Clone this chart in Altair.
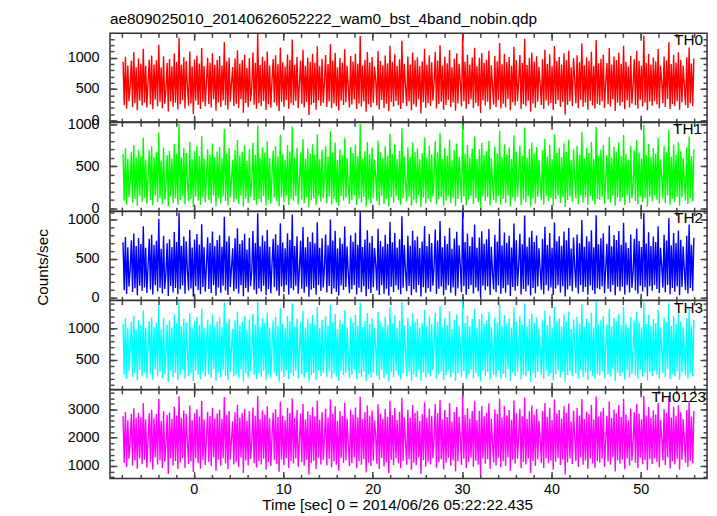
import altair as alt
import pandas as pd

FONT = "Liberation Sans"
TITLE = "ae809025010_20140626052222_wam0_bst_4band_nobin.qdp"
X_TITLE = "Time [sec] 0 = 2014/06/26 05:22:22.435"
Y_TITLE = "Counts/sec"
T_START = -7.92
T_BIN = 0.1333

th0 = [
    934, 241, 1012, 188, 876, 307, 563, 952, 215, 1087, 274, 845, 162, 990, 318, 901,
    236, 1143, 287, 871, 205, 612, 968, 254, 1035, 179, 889, 331, 957, 226, 1206, 298,
    842, 193, 1021, 266, 497, 913, 142, 978, 303, 864, 217, 1064, 281, 930, 174, 1318,
    259, 887, 322, 1005, 190, 944, 548, 233, 1096, 270, 857, 98, 972, 315, 1033, 247,
    905, 182, 1152, 294, 866, 226, 621, 999, 263, 918, 205, 1071, 339, 884, 156, 961,
    287, 1024, 212, 873, 318, 1247, 241, 940, 173, 1003, 296, 588, 851, 229, 986, 265,
    1119, 198, 908, 337, 962, 124, 1045, 279, 839, 211, 992, 304, 530, 1083, 250, 917,
    186, 1376, 272, 881, 224, 1015, 309, 946, 167, 1098, 258, 874, 202, 639, 979, 286,
    1037, 233, 895, 145, 1162, 297, 926, 219, 858, 326, 1049, 184, 967, 275, 1290, 240,
    883, 311, 1009, 196, 571, 951, 264, 1126, 207, 869, 292, 1002, 87, 935, 248, 1060,
    277, 918, 170, 1181, 320, 861, 235, 984, 283, 607, 1041, 213, 897, 302, 1215, 192,
    955, 268, 1078, 226, 846, 159, 993, 314, 917, 246, 1134, 289, 872, 521, 204, 1024,
    252, 939, 335, 1063, 183, 902, 271, 1345, 220, 876, 300, 968, 137, 1091, 257, 923,
    209, 1010, 282, 859, 645, 238, 1107, 176, 947, 325, 880, 199, 1032, 264, 912, 148,
    1189, 293, 933, 216, 1055, 310, 868, 243, 976, 182, 1267, 276, 901, 554, 228, 1018,
    301, 892, 164, 1082, 255, 959, 219, 1004, 337, 866, 110, 941, 288, 1141, 203, 887,
    274, 1036, 231, 925, 318, 598, 1093, 190, 955, 260, 1198, 297, 873, 171, 1015, 244,
    909, 328, 1120, 212, 848, 286, 982, 153, 1066, 270, 903, 613, 221, 1372, 305, 936,
    186, 1047, 262, 890, 335, 1003, 197, 1157, 280, 862, 227, 998, 118, 1074, 316, 920,
    238, 965, 299, 1109, 176, 877, 542, 251, 1027, 214, 944, 324, 1233, 193, 896, 267,
    1058, 208, 931, 340, 1011, 162, 870, 289, 1174, 236, 958, 306, 627, 1040, 181, 913,
    257, 1301, 225, 884, 312, 997, 140, 1083, 271, 939, 203, 1021, 296, 856, 579, 247,
    976, 183, 1127, 318, 904, 237, 1052, 278, 863, 167, 1185, 263, 948, 322, 1009, 212,
    891, 295, 1068, 92, 960, 249, 1113, 304, 847, 228, 992, 657, 274, 1036, 195, 925,
    327, 1226, 216, 878, 283, 1004, 171, 946, 310, 1095, 239, 867, 188, 1281, 267, 912,
    244, 983, 305, 1046, 198, 600, 915, 256, 1152, 223, 889, 336, 1017, 149, 963, 281,
    1077, 232, 904, 293, 1190, 176, 936, 319, 859, 207, 1028, 268, 563, 975, 241, 1110,
    186, 951, 330, 873, 222, 1353, 285, 917, 163, 1061, 299, 890, 234, 1002, 313, 938,
    257, 1136, 194, 869, 611, 276, 1019, 215, 954, 342, 1246, 183, 897, 262, 1045, 228,
    924, 307, 1084, 170, 961, 289, 876, 539, 243, 1007, 196, 1163, 273, 905, 231, 988,
]
th1 = [
    642, 87, 713, 41, 588, 132, 330, 671, 65, 754, 110, 601, 28, 697, 143, 625,
    79, 842, 121, 579, 53, 362, 690, 96, 738, 34, 612, 148, 666, 72, 905, 118,
    569, 47, 724, 102, 281, 633, 18, 685, 139, 591, 60, 767, 114, 648, 39, 1004,
    98, 607, 145, 716, 44, 659, 317, 83, 793, 107, 584, 12, 681, 136, 745, 91,
    622, 38, 861, 126, 588, 69, 374, 705, 101, 640, 55, 771, 150, 603, 25, 676,
    119, 729, 58, 596, 140, 948, 85, 656, 30, 718, 127, 340, 577, 74, 694, 106,
    812, 49, 627, 147, 672, 16, 748, 113, 563, 62, 701, 135, 298, 779, 94, 638,
    40, 987, 108, 601, 71, 727, 141, 660, 27, 795, 99, 594, 52, 388, 688, 123,
    742, 81, 615, 22, 869, 131, 645, 66, 578, 149, 753, 37, 676, 112, 975, 88,
    604, 142, 719, 45, 329, 664, 104, 826, 57, 589, 128, 711, 8, 652, 93, 763,
    115, 637, 33, 881, 146, 583, 77, 695, 120, 357, 741, 59, 614, 138, 918, 43,
    668, 109, 784, 68, 575, 24, 702, 144, 631, 90, 833, 125, 597, 270, 51, 730,
    97, 654, 150, 760, 36, 620, 116, 1008, 63, 593, 134, 679, 15, 790, 103, 641,
    56, 722, 122, 580, 392, 84, 806, 31, 663, 148, 599, 46, 737, 106, 628, 20,
    888, 129, 649, 67, 758, 143, 586, 92, 684, 39, 952, 117, 616, 310, 75, 725,
    137, 608, 29, 784, 100, 670, 61, 715, 150, 582, 11, 657, 124, 839, 54, 603,
    111, 744, 70, 639, 141, 348, 797, 42, 667, 105, 898, 133, 590, 26, 721, 89,
    626, 147, 818, 58, 571, 121, 693, 21, 771, 108, 614, 366, 64, 1002, 139, 650,
    35, 752, 102, 604, 149, 712, 48, 856, 118, 585, 76, 703, 5, 779, 142, 632,
    86, 681, 131, 805, 32, 596, 287, 95, 736, 63, 656, 145, 924, 44, 609, 112,
    761, 57, 643, 150, 726, 19, 587, 127, 868, 80, 672, 137, 379, 746, 37, 624,
    103, 962, 71, 600, 144, 708, 23, 783, 115, 651, 52, 729, 132, 578, 321, 93,
    690, 40, 829, 146, 617, 82, 757, 120, 583, 31, 880, 107, 662, 148, 720, 61,
    608, 134, 774, 14, 671, 97, 815, 139, 574, 74, 705, 351, 118, 740, 47, 637,
    150, 911, 66, 595, 125, 719, 34, 659, 143, 790, 88, 588, 42, 967, 110, 626,
    99, 696, 137, 753, 50, 333, 631, 104, 846, 68, 603, 149, 733, 27, 675, 128,
    782, 76, 619, 130, 876, 36, 648, 147, 581, 60, 741, 116, 296, 689, 85, 809,
    45, 664, 141, 592, 73, 995, 122, 634, 17, 767, 135, 606, 81, 717, 148, 652,
    101, 837, 54, 583, 369, 119, 739, 62, 668, 150, 933, 39, 614, 113, 758, 70,
    640, 136, 786, 29, 677, 127, 598, 318, 90, 725, 48, 855, 114, 621, 78, 701,
]
th2 = [
    712, 94, 781, 46, 648, 141, 371, 739, 70, 826, 119, 663, 31, 765, 152, 689,
    85, 917, 130, 640, 58, 402, 758, 104, 809, 38, 675, 159, 731, 77, 1013, 126,
    628, 52, 795, 110, 316, 699, 20, 752, 149, 651, 64, 843, 123, 714, 42, 1092,
    106, 668, 156, 787, 48, 725, 352, 90, 871, 116, 643, 13, 748, 146, 818, 98,
    684, 41, 944, 136, 647, 75, 415, 776, 109, 703, 60, 849, 160, 664, 27, 742,
    128, 801, 63, 655, 151, 1041, 92, 721, 33, 790, 137, 378, 633, 80, 763, 114,
    893, 53, 690, 158, 739, 17, 822, 122, 619, 67, 771, 145, 331, 857, 101, 701,
    43, 1084, 117, 660, 77, 799, 152, 726, 29, 874, 107, 653, 56, 430, 756, 133,
    815, 88, 675, 24, 955, 141, 709, 71, 636, 160, 828, 40, 743, 121, 1069, 95,
    662, 153, 790, 49, 365, 730, 112, 907, 62, 646, 138, 781, 9, 717, 100, 838,
    124, 700, 36, 968, 157, 640, 83, 763, 130, 395, 813, 64, 674, 149, 1006, 47,
    734, 118, 861, 73, 630, 26, 771, 155, 693, 97, 915, 135, 656, 302, 55, 802,
    105, 719, 160, 835, 39, 681, 125, 1103, 68, 651, 144, 746, 16, 867, 111, 704,
    60, 793, 132, 637, 434, 91, 885, 34, 728, 159, 657, 50, 810, 114, 690, 22,
    975, 139, 713, 72, 832, 154, 643, 99, 752, 42, 1047, 126, 677, 345, 81, 796,
    148, 668, 31, 861, 108, 736, 66, 785, 160, 639, 12, 722, 134, 921, 58, 662,
    120, 817, 75, 702, 152, 386, 875, 45, 733, 113, 987, 143, 648, 28, 792, 96,
    688, 158, 898, 62, 627, 131, 760, 22, 846, 117, 674, 405, 69, 1098, 150, 714,
    37, 826, 110, 663, 160, 781, 51, 940, 128, 642, 82, 772, 6, 855, 153, 694,
    93, 749, 141, 884, 34, 655, 318, 103, 808, 68, 720, 156, 1015, 47, 669, 121,
    836, 61, 706, 160, 797, 20, 645, 137, 953, 86, 738, 147, 418, 820, 40, 685,
    111, 1056, 77, 658, 155, 777, 25, 860, 124, 715, 56, 800, 142, 634, 356, 100,
    757, 43, 910, 157, 676, 88, 830, 129, 640, 33, 966, 115, 726, 159, 790, 66,
    667, 145, 850, 15, 737, 104, 896, 150, 630, 80, 774, 389, 127, 813, 51, 699,
    160, 1000, 71, 653, 135, 788, 37, 723, 154, 866, 95, 646, 45, 1061, 119, 686,
    107, 764, 147, 827, 54, 367, 692, 112, 929, 73, 661, 160, 805, 29, 740, 138,
    858, 82, 678, 140, 962, 39, 710, 158, 637, 65, 813, 125, 328, 756, 92, 888,
    49, 728, 152, 650, 79, 1090, 132, 696, 18, 842, 146, 664, 87, 786, 160, 715,
    109, 918, 58, 640, 404, 128, 810, 67, 733, 160, 1024, 42, 674, 122, 832, 76,
    701, 147, 863, 31, 744, 137, 656, 349, 97, 796, 52, 939, 123, 681, 84, 769,
]
th3 = [
    1078, 263, 1162, 196, 1003, 322, 658, 1110, 225, 1205, 289, 981, 171, 1134, 341, 1047,
    248, 1288, 302, 1009, 212, 702, 1121, 271, 1181, 183, 1029, 346, 1098, 238, 1372, 311,
    987, 203, 1170, 278, 584, 1062, 151, 1127, 327, 1014, 226, 1223, 295, 1085, 186, 1436,
    269, 1036, 338, 1154, 199, 1092, 636, 243, 1243, 283, 1001, 160, 1116, 332, 1187, 257,
    1055, 191, 1316, 307, 1011, 235, 719, 1145, 274, 1067, 214, 1229, 350, 1031, 165, 1107,
    299, 1174, 222, 1019, 334, 1412, 252, 1090, 182, 1158, 310, 676, 995, 240, 1133, 276,
    1270, 207, 1052, 349, 1112, 158, 1199, 291, 982, 220, 1142, 318, 613, 1238, 262, 1064,
    194, 1429, 285, 1026, 233, 1168, 323, 1095, 174, 1255, 270, 1017, 211, 730, 1127, 298,
    1189, 244, 1041, 152, 1324, 310, 1076, 228, 1004, 340, 1203, 192, 1117, 287, 1401, 250,
    1030, 326, 1160, 205, 660, 1101, 276, 1283, 216, 1013, 305, 1152, 155, 1083, 259, 1215,
    289, 1066, 178, 1339, 334, 1007, 246, 1136, 296, 697, 1195, 222, 1044, 316, 1378, 200,
    1106, 280, 1232, 236, 990, 167, 1144, 328, 1070, 257, 1293, 301, 1018, 602, 213, 1177,
    264, 1092, 349, 1218, 191, 1049, 283, 1420, 230, 1021, 313, 1121, 160, 1247, 269, 1075,
    218, 1163, 295, 1003, 738, 249, 1262, 184, 1099, 339, 1028, 208, 1186, 276, 1060, 156,
    1345, 306, 1084, 225, 1211, 324, 1014, 254, 1128, 190, 1425, 288, 1053, 637, 238, 1172,
    314, 1039, 172, 1240, 266, 1110, 229, 1157, 350, 1011, 163, 1094, 301, 1300, 212, 1035,
    286, 1191, 241, 1076, 331, 689, 1250, 199, 1106, 272, 1356, 310, 1021, 179, 1168, 255,
    1058, 342, 1278, 221, 993, 298, 1135, 161, 1224, 283, 1050, 707, 231, 1434, 318, 1087,
    194, 1204, 274, 1038, 349, 1157, 206, 1316, 292, 1007, 237, 1150, 157, 1233, 330, 1072,
    248, 1116, 312, 1267, 184, 1023, 622, 262, 1180, 223, 1096, 338, 1392, 202, 1045, 279,
    1214, 216, 1082, 350, 1165, 170, 1016, 301, 1333, 246, 1109, 319, 720, 1196, 189, 1062,
    268, 1397, 235, 1031, 325, 1151, 153, 1240, 283, 1090, 212, 1175, 309, 1000, 666, 258,
    1127, 192, 1287, 331, 1055, 247, 1208, 290, 1010, 175, 1345, 274, 1099, 336, 1161, 222,
    1040, 307, 1226, 151, 1113, 260, 1270, 317, 993, 239, 1146, 751, 286, 1189, 204, 1077,
    341, 1387, 226, 1025, 296, 1158, 180, 1097, 323, 1252, 250, 1014, 197, 1440, 279, 1063,
    255, 1135, 318, 1201, 206, 690, 1068, 268, 1310, 233, 1037, 350, 1172, 160, 1114, 294,
    1236, 242, 1053, 306, 1348, 185, 1086, 333, 1004, 217, 1184, 281, 645, 1127, 251, 1268,
    196, 1102, 344, 1020, 232, 1418, 298, 1069, 171, 1219, 312, 1041, 244, 1155, 327, 1089,
    268, 1294, 203, 1016, 705, 287, 1176, 225, 1105, 350, 1403, 193, 1048, 273, 1203, 238,
    1076, 320, 1241, 180, 1112, 301, 1025, 626, 253, 1163, 206, 1321, 284, 1054, 241, 1138,
]
th0123 = [
    2763, 1104, 2912, 962, 2618, 1251, 1893, 2847, 1018, 3041, 1189, 2705, 897, 2884, 1276, 2731,
    1063, 3219, 1217, 2644, 938, 1958, 2871, 1132, 2990, 870, 2689, 1294, 2836, 1047, 3382, 1201,
    2597, 925, 2945, 1146, 1762, 2802, 712, 2893, 1262, 2671, 1011, 3097, 1172, 2788, 889, 3466,
    1124, 2710, 1284, 2963, 917, 2838, 1874, 1069, 3138, 1158, 2620, 781, 2870, 1268, 3006, 1090,
    2752, 903, 3304, 1209, 2649, 1035, 2017, 2924, 1141, 2766, 994, 3058, 1300, 2681, 826, 2862,
    1216, 2988, 1005, 2668, 1270, 3448, 1083, 2813, 880, 2951, 1226, 1935, 2586, 1060, 2904, 1150,
    3166, 958, 2720, 1297, 2868, 752, 3021, 1193, 2604, 1017, 2943, 1245, 1801, 3074, 1098, 2776,
    934, 3491, 1177, 2655, 1052, 2974, 1258, 2827, 860, 3117, 1134, 2692, 999, 2050, 2896, 1204,
    3012, 1067, 2733, 795, 3276, 1231, 2791, 1022, 2615, 1283, 3058, 925, 2880, 1172, 3394, 1082,
    2694, 1262, 2986, 969, 1846, 2857, 1141, 3198, 1006, 2641, 1219, 2939, 689, 2806, 1092, 3085,
    1186, 2752, 885, 3322, 1288, 2632, 1051, 2911, 1203, 1977, 3030, 1012, 2716, 1244, 3367, 940,
    2849, 1154, 3117, 1040, 2594, 833, 2934, 1274, 2775, 1101, 3241, 1198, 2678, 1729, 985, 2995,
    1093, 2820, 1299, 3073, 918, 2728, 1167, 3452, 1037, 2659, 1236, 2903, 770, 3139, 1116, 2791,
    996, 2967, 1182, 2618, 2081, 1075, 3188, 894, 2851, 1281, 2680, 977, 3014, 1124, 2745, 737,
    3309, 1207, 2801, 1028, 3049, 1262, 2627, 1096, 2923, 916, 3421, 1171, 2722, 1868, 1040, 2988,
    1238, 2697, 859, 3160, 1110, 2876, 1020, 2958, 1296, 2603, 716, 2835, 1212, 3261, 970, 2706,
    1146, 3031, 1053, 2778, 1275, 1942, 3195, 931, 2872, 1131, 3346, 1224, 2649, 876, 2979, 1107,
    2730, 1289, 3227, 1009, 2575, 1193, 2915, 805, 3092, 1153, 2741, 2010, 1036, 3488, 1250, 2812,
    928, 3047, 1138, 2681, 1297, 2950, 966, 3296, 1183, 2622, 1044, 2960, 658, 3120, 1263, 2762,
    1074, 2895, 1240, 3219, 888, 2667, 1819, 1119, 3002, 1016, 2843, 1285, 3392, 945, 2712, 1165,
    3121, 1001, 2792, 1300, 2986, 827, 2636, 1217, 3316, 1077, 2869, 1255, 2064, 3028, 913, 2758,
    1139, 3426, 1046, 2660, 1260, 2937, 746, 3144, 1170, 2817, 999, 3020, 1233, 2598, 1957, 1101,
    2951, 923, 3232, 1262, 2741, 1098, 3062, 1189, 2631, 862, 3357, 1151, 2861, 1277, 2986, 1028,
    2684, 1220, 3117, 698, 2879, 1124, 3209, 1264, 2586, 1066, 2953, 2003, 1177, 3049, 962, 2787,
    1294, 3371, 1042, 2662, 1192, 2921, 897, 2843, 1252, 3161, 1089, 2643, 931, 3459, 1163, 2749,
    1110, 2927, 1255, 3066, 974, 1893, 2779, 1155, 3281, 1043, 2701, 1298, 2998, 801, 2854, 1203,
    3156, 1073, 2733, 1223, 3378, 885, 2826, 1267, 2618, 1009, 3039, 1180, 1845, 2902, 1102, 3206,
    920, 2857, 1287, 2646, 1057, 3477, 1205, 2788, 843, 3086, 1236, 2699, 1068, 2970, 1262, 2819,
    1141, 3243, 948, 2638, 1987, 1188, 3009, 1034, 2876, 1300, 3418, 906, 2720, 1160, 3095, 1052,
    2774, 1246, 3154, 872, 2901, 1214, 2662, 1889, 1114, 2992, 964, 3302, 1181, 2752, 1085, 2947,
]

series = [th0, th1, th2, th3, th0123]
names = ["TH0", "TH1", "TH2", "TH3", "TH0123"]
colors = ["#ff0000", "#00ff00", "#0000ff", "#00ffff", "#ff00ff"]
y_domains = [[-27, 1388], [-37, 1023], [-36, 1108], [30, 1445], [551, 3702]]
y_major = [[0, 500, 1000], [0, 500, 1000], [0, 500, 1000], [500, 1000], [1000, 2000, 3000]]
y_minor_step = [100, 100, 100, 100, 200]
label_x = [599, 598, 599, 599, 602]
x_domain = [-9.38, 57.4]
x_major = [0, 10, 20, 30, 40, 50]
x_minor = list(range(-8, 57, 2))

W = 603
H = 89.7
MAJ = 7
MIN = 4


def ax(orient, values, size, labels=False, title=None, **kw):
    return alt.Axis(orient=orient, values=values, tickSize=size, offset=-size,
                    labels=labels, title=title, grid=False, domain=False, **kw)


panels = []
for i, (vals, name, col) in enumerate(zip(series, names, colors)):
    t = [T_START + k * T_BIN for k in range(len(vals))]
    df = pd.DataFrame({"t": t, "v": vals})
    lo, hi = y_domains[i]
    step = y_minor_step[i]
    y_minor = [v for v in range(0, 4000, step) if lo <= v <= hi]
    xs = alt.Scale(domain=x_domain, nice=False, zero=False)
    ys = alt.Scale(domain=[lo, hi], nice=False, zero=False)
    last = i == len(series) - 1

    if last:
        xa_main = ax("bottom", x_major, MAJ, labels=True, title=X_TITLE, format="d",
                     labelPadding=4, labelFlush=False, titlePadding=2, titleX=290)
    else:
        xa_main = ax("bottom", x_major, MAJ)
    if i == 2:
        ya_main = ax("left", y_major[i], MAJ, labels=True, title=Y_TITLE, format="d",
                     labelPadding=11, titlePadding=17, titleY=56)
    else:
        ya_main = ax("left", y_major[i], MAJ, labels=True, format="d", labelPadding=11)

    base = alt.Chart(df)
    main = base.mark_line(color=col, strokeWidth=1.4).encode(
        x=alt.X("t:Q", scale=xs, axis=xa_main),
        y=alt.Y("v:Q", scale=ys, axis=ya_main),
    )
    g1 = base.mark_line(opacity=0).encode(
        x=alt.X("t:Q", scale=xs, axis=ax("top", x_major, MAJ)),
        y=alt.Y("v:Q", scale=ys, axis=ax("right", y_major[i], MAJ)),
    )
    g2 = base.mark_line(opacity=0).encode(
        x=alt.X("t:Q", scale=xs, axis=ax("bottom", x_minor, MIN)),
        y=alt.Y("v:Q", scale=ys, axis=ax("left", y_minor, MIN)),
    )
    g3 = base.mark_line(opacity=0).encode(
        x=alt.X("t:Q", scale=xs, axis=ax("top", x_minor, MIN)),
        y=alt.Y("v:Q", scale=ys, axis=ax("right", y_minor, MIN)),
    )
    txt = alt.Chart(pd.DataFrame({"label": [name]})).mark_text(
        align="right", baseline="top", fontSize=15.5, font=FONT, color="black"
    ).encode(text="label:N", x=alt.value(label_x[i]), y=alt.value(0))

    p = alt.layer(main, g1, g2, g3, txt).resolve_axis(
        x="independent", y="independent"
    ).properties(width=W, height=H)
    if i == 0:
        p = p.properties(title=alt.TitleParams(
            TITLE, anchor="start", frame="group", fontSize=15.5,
            fontWeight="normal", font=FONT, color="black", offset=4))
    panels.append(p)

chart = alt.vconcat(*panels, spacing=0, bounds="flush").properties(
    padding={"left": 26, "top": 0, "right": 0, "bottom": 0},
    background="white",
).configure(font=FONT).configure_view(
    stroke="#333333", strokeWidth=1.5
).configure_axis(
    labelFont=FONT, labelFontSize=14.5, labelColor="black",
    titleFont=FONT, titleFontSize=15.5, titleFontWeight="normal", titleColor="black",
    tickColor="#444444", tickWidth=1.5,
)

chart.save("out.html", embed_options={"renderer": "svg", "actions": False})
